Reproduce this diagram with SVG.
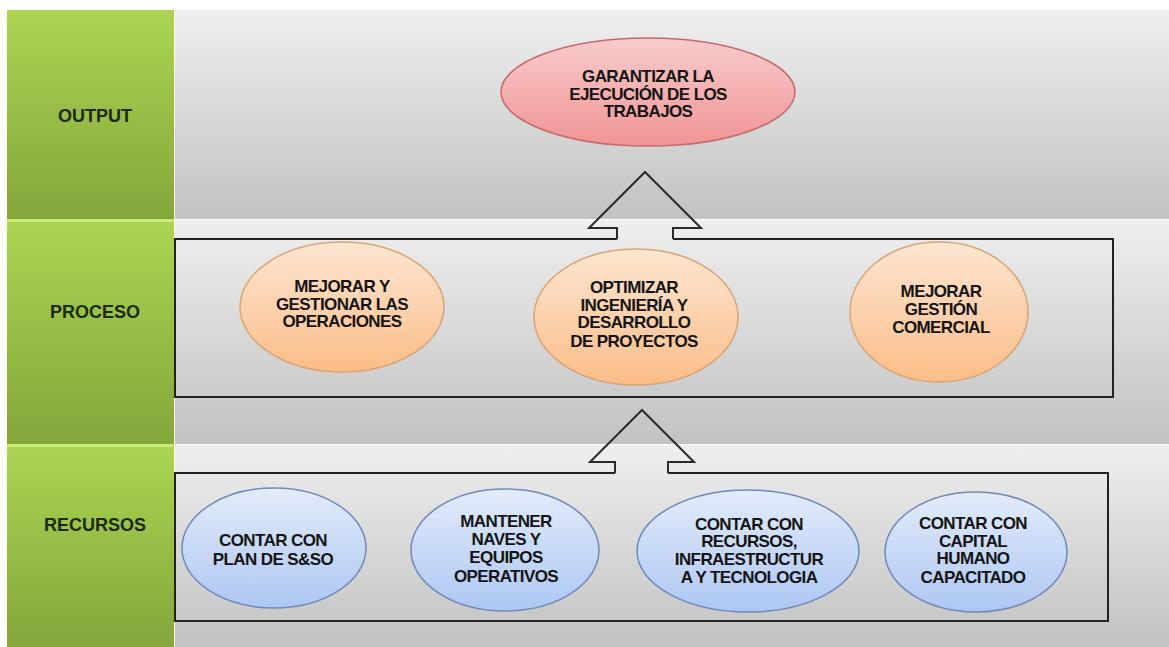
<svg xmlns="http://www.w3.org/2000/svg" width="1169" height="647" viewBox="0 0 1169 647">
  <defs>
    <linearGradient id="gGreen" x1="0" y1="0" x2="0" y2="1">
      <stop offset="0" stop-color="#abd552"/>
      <stop offset="1" stop-color="#84a63c"/>
    </linearGradient>
    <linearGradient id="gGray" x1="0" y1="0" x2="0" y2="1">
      <stop offset="0" stop-color="#efefef"/>
      <stop offset="1" stop-color="#c2c2c2"/>
    </linearGradient>
    <linearGradient id="gRed" x1="0" y1="0" x2="0" y2="1">
      <stop offset="0" stop-color="#f9cccc"/>
      <stop offset="1" stop-color="#f09494"/>
    </linearGradient>
    <linearGradient id="gOrange" x1="0" y1="0" x2="0" y2="1">
      <stop offset="0" stop-color="#fde6d2"/>
      <stop offset="1" stop-color="#fbbd88"/>
    </linearGradient>
    <linearGradient id="gBlue" x1="0" y1="0" x2="0" y2="1">
      <stop offset="0" stop-color="#e3ecfb"/>
      <stop offset="1" stop-color="#adc7f3"/>
    </linearGradient>
  </defs>
  <style>
    .band { fill: url(#gGray); }
    .side { fill: url(#gGreen); }
    .hl { fill: #c6ee74; }
    .lane { font-family: "Liberation Sans", Arial, sans-serif; font-weight: bold; font-size: 18px; fill: #1d2a10; text-anchor: middle; }
    .t { font-family: "Liberation Sans", Arial, sans-serif; font-weight: bold; font-size: 17px; letter-spacing: -0.6px; fill: #141414; text-anchor: middle; }
    .frame { fill: none; stroke: #222; stroke-width: 2; }
    .red { fill: url(#gRed); stroke: #c46a6a; stroke-width: 1.5; }
    .orange { fill: url(#gOrange); stroke: #d9a373; stroke-width: 1.5; }
    .blue { fill: url(#gBlue); stroke: #7089bd; stroke-width: 1.5; }
    .arrow { fill: none; stroke: #2a2a2a; stroke-width: 2; stroke-linejoin: miter; }
  </style>

  <rect width="1169" height="647" fill="#ffffff"/>

  <!-- lanes -->
  <g id="lane-output">
    <rect class="band" x="175" y="10" width="994" height="209"/>
    <rect class="side" x="7" y="10" width="167" height="209"/>
    <text class="lane" x="95" y="122">OUTPUT</text>
  </g>
  <g id="lane-proceso">
    <rect class="band" x="175" y="220" width="994" height="224"/>
    <rect class="side" x="7" y="220" width="167" height="224"/>
    <rect class="hl" x="7" y="219" width="167" height="3"/>
    <text class="lane" x="95" y="318">PROCESO</text>
  </g>
  <g id="lane-recursos">
    <rect class="band" x="175" y="445" width="994" height="202"/>
    <rect class="side" x="7" y="445" width="167" height="202"/>
    <rect class="hl" x="7" y="444" width="167" height="3"/>
    <text class="lane" x="95" y="531">RECURSOS</text>
  </g>

  <!-- group frames (top edge left open where the arrows enter) -->
  <g id="frame-proceso">
    <path class="frame" d="M617 239 H175 V397 H1113 V239 H673"/>
  </g>
  <g id="frame-recursos">
    <path class="frame" d="M615 473 H175 V621 H1108 V473 H668"/>
  </g>

  <!-- connectors -->
  <g id="connectors">
    <path class="arrow" d="M617 239 V228 H589 L645 172 L701 228 H673 V239"/>
    <path class="arrow" d="M615 473 V462 H590 L642 410 L694 462 H668 V473"/>
  </g>

  <!-- output -->
  <g id="garantizar">
    <ellipse class="red" cx="648" cy="92" rx="147" ry="54"/>
    <text class="t" x="648" y="82">GARANTIZAR LA</text>
    <text class="t" x="648" y="100">EJECUCIÓN DE LOS</text>
    <text class="t" x="648" y="117">TRABAJOS</text>
  </g>

  <!-- proceso -->
  <g id="operaciones">
    <ellipse class="orange" cx="342" cy="307" rx="102" ry="65"/>
    <text class="t" x="342" y="292">MEJORAR Y</text>
    <text class="t" x="342" y="310">GESTIONAR LAS</text>
    <text class="t" x="342" y="327">OPERACIONES</text>
  </g>
  <g id="ingenieria">
    <ellipse class="orange" cx="636" cy="317" rx="102" ry="68"/>
    <text class="t" x="634" y="293">OPTIMIZAR</text>
    <text class="t" x="634" y="311">INGENIERÍA Y</text>
    <text class="t" x="634" y="328">DESARROLLO</text>
    <text class="t" x="634" y="347">DE PROYECTOS</text>
  </g>
  <g id="comercial">
    <ellipse class="orange" cx="939" cy="312" rx="89" ry="70"/>
    <text class="t" x="941" y="297">MEJORAR</text>
    <text class="t" x="941" y="315">GESTIÓN</text>
    <text class="t" x="941" y="333">COMERCIAL</text>
  </g>

  <!-- recursos -->
  <g id="plan-sso">
    <ellipse class="blue" cx="274" cy="548" rx="92" ry="60"/>
    <text class="t" x="273" y="546">CONTAR CON</text>
    <text class="t" x="273" y="565">PLAN DE S&amp;SO</text>
  </g>
  <g id="naves">
    <ellipse class="blue" cx="505" cy="550" rx="94" ry="61"/>
    <text class="t" x="506" y="527">MANTENER</text>
    <text class="t" x="506" y="545">NAVES Y</text>
    <text class="t" x="506" y="563">EQUIPOS</text>
    <text class="t" x="506" y="582">OPERATIVOS</text>
  </g>
  <g id="infraestructura">
    <ellipse class="blue" cx="748" cy="551" rx="111" ry="61"/>
    <text class="t" x="749" y="530">CONTAR CON</text>
    <text class="t" x="749" y="547">RECURSOS,</text>
    <text class="t" x="749" y="565">INFRAESTRUCTUR</text>
    <text class="t" x="749" y="583">A Y TECNOLOGIA</text>
  </g>
  <g id="capital">
    <ellipse class="blue" cx="976" cy="552" rx="91" ry="60"/>
    <text class="t" x="973" y="529">CONTAR CON</text>
    <text class="t" x="973" y="547">CAPITAL</text>
    <text class="t" x="973" y="564">HUMANO</text>
    <text class="t" x="973" y="583">CAPACITADO</text>
  </g>
</svg>
